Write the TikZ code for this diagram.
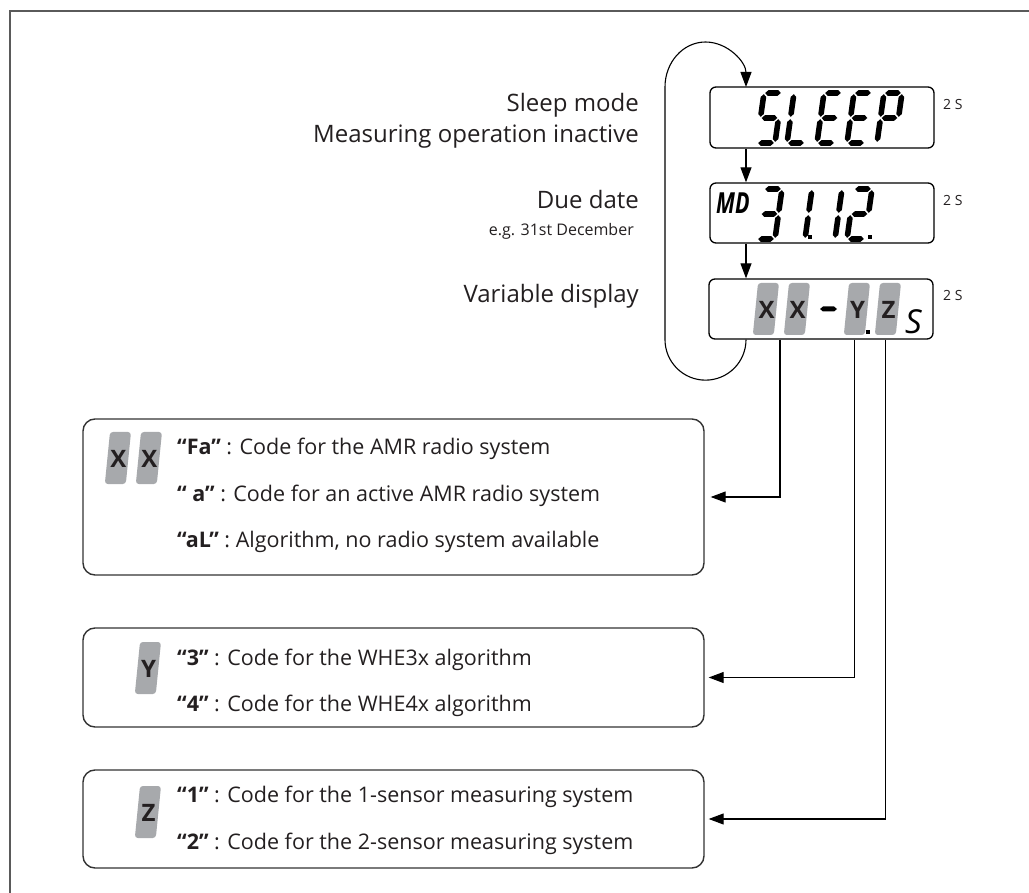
\documentclass[tikz,border=0pt]{standalone}
\usepackage{fontspec}
\setmainfont{Open Sans}
\usetikzlibrary{arrows.meta,calc}
\definecolor{tilegray}{HTML}{A7A9AC}
\definecolor{txt}{HTML}{231F20}
\definecolor{framegray}{HTML}{5A5A5A}
\definecolor{boxgray}{HTML}{333333}
\newcommand\fsz[1]{\fontsize{#1}{#1}\selectfont}
\newcommand\sw{2.8}
% horizontal segment: x1, x2, y
\newcommand\hsegm[3]{\fill ({#1},{#3}) -- ({#1+\sw},{#3-\sw}) -- ({#2-\sw},{#3-\sw}) -- ({#2},{#3}) -- ({#2-\sw},{#3+\sw}) -- ({#1+\sw},{#3+\sw}) -- cycle;}
% vertical segment: x, y1, y2
\newcommand\vsegm[3]{\fill ({#1},{#2}) -- ({#1+\sw},{#2+\sw}) -- ({#1+\sw},{#3-\sw}) -- ({#1},{#3}) -- ({#1-\sw},{#3-\sw}) -- ({#1-\sw},{#2+\sw}) -- cycle;}
\newcommand\sga{\hsegm{1.2}{16.8}{0}}
\newcommand\sgb{\vsegm{18}{1.2}{23.8}}
\newcommand\sgc{\vsegm{18}{26.2}{48.8}}
\newcommand\sgd{\hsegm{1.2}{16.8}{50}}
\newcommand\sge{\vsegm{0}{26.2}{48.8}}
\newcommand\sgf{\vsegm{0}{1.2}{23.8}}
\newcommand\sgg{\hsegm{1.2}{16.8}{25}}
% glyph: x of bottom-left, y top, segment list
\newcommand\glyph[3]{\begin{scope}[shift={(#1+7,#2)},xslant=0.14]\foreach \s in {#3}{\csname sg\s\endcsname}\end{scope}}
% tile: node name, x bottom-left, y top, letter
\newcommand\tile[4]{\begin{scope}[shift={(#2+5,#3)},xslant=0.1]\fill[tilegray,rounded corners=3] (0,0) rectangle (21,52);\end{scope}
\node[tilelbl] (#1) at (#2+13.5,#3+27) {#4};}
\begin{document}
\begin{tikzpicture}[x=1pt,y=-1pt,
  lbl/.style={font=\fsz{24}, text=txt, inner sep=0},
  small/.style={font=\fsz{16}, text=txt, inner sep=0},
  secs/.style={font=\fsz{14}, text=txt, inner sep=0},
  ltext/.style={font=\fsz{21.5}, text=txt, inner sep=0},
  tilelbl/.style={font=\fsz{24}\bfseries, text=txt, inner sep=0},
  disp/.style={draw=black, line width=1.3pt, rounded corners=6, minimum width=224pt, minimum height=60pt, inner sep=0},
  legbox/.style={draw=boxgray, line width=1.4pt, rounded corners=12, minimum width=621pt, inner sep=0},
  conn/.style={draw=black, line width=1.1pt, -{Triangle[length=15pt,width=11pt]}},
  loopline/.style={draw=black, line width=1.1pt, -{Triangle[length=15pt,width=11pt]}}]
\useasboundingbox (0,0) rectangle (1029,893);
% outer frame
\coordinate (fbl) at (9.5,893);
\coordinate (ftl) at (9.5,11.5);
\coordinate (ftr) at (1029,11.5);
\draw[framegray, line width=2pt] (fbl) -- (ftl) -- (ftr);

% display boxes
\node[disp, minimum height=61pt] (sleep) at (822,117.5) {};
\node[disp] (md) at (822,213) {};
\node[disp] (var) at (821,309) {};

% SLEEP glyphs
\glyph{757}{93}{a,f,g,c,d}
\glyph{787}{93}{f,e,d}
\glyph{817}{93}{a,f,g,e,d}
\glyph{847}{93}{a,f,g,e,d}
\glyph{877}{93}{a,b,f,g,e}

% MD 31.12.
\node[font=\fsz{29}\bfseries\itshape, text=black, inner sep=0, anchor=base west, xscale=0.74, transform shape] (mdtxt) at (716,214) {MD};
\glyph{757}{189}{a,b,g,c,d}
\glyph{787}{189}{b,c}
\glyph{817}{189}{b,c}
\glyph{847}{189}{a,b,g,e,d}
\fill (807.5,235.5) rectangle (811.5,239.5);
\fill (867.5,235.5) rectangle (871.5,239.5);

% variable display
\tile{vx1}{753}{283}{X}
\tile{vx2}{784}{283}{X}
\tile{vy}{844}{283}{Y}
\tile{vz}{875}{283}{Z}
\fill (820,309) -- (823,306.5) -- (834,306.5) -- (837,309) -- (834,311.5) -- (823,311.5) -- cycle;
\fill (865.5,330) rectangle (870,334.5);
\node[font=\fsz{33}\itshape, text=black, inner sep=0, anchor=base west] (sbig) at (905,334) {S};

% 2 S labels
\node[secs, anchor=base west] (s1) at (943,110) {2 S};
\node[secs, anchor=base west] (s2) at (943,206) {2 S};
\node[secs, anchor=base west] (s3) at (943,301) {2 S};

% left labels
\node[lbl, anchor=base east] (sleepl) at (639,112) {Sleep mode};
\node[lbl, anchor=base east] (measl) at (639,143) {Measuring operation inactive};
\node[lbl, anchor=base east] (duel) at (639,209) {Due date};
\node[small, anchor=base east] (egl) at (634,236) {e.g. 31st December};
\node[lbl, anchor=base east] (varl) at (639,303) {Variable display};

% flow arrows
\coordinate (ax) at (746,0);
\draw[conn] (sleep.south -| ax) -- (md.north -| ax);
\draw[conn] (md.south -| ax) -- (var.north -| ax);
% loop
\coordinate (lpb) at (665,339);
\coordinate (lpt) at (665,87);
\draw[loopline] (var.south -| ax) arc[start angle=0, end angle=180, radius=40.5] -- (lpt) arc[start angle=180, end angle=360, x radius=40.5, y radius=45];

% legend boxes
\node[legbox, minimum height=156pt] (xx) at (393.5,497) {};
\node[legbox, minimum height=99pt] (yy) at (393.5,677.5) {};
\node[legbox, minimum height=98pt] (zz) at (393.5,819) {};

\tile{lx1}{105}{432}{X}
\tile{lx2}{136}{432}{X}
\tile{ly}{135}{642}{Y}
\tile{lz}{135}{786}{Z}

\node[ltext, anchor=base west] (t1) at (177,455) {\textbf{“Fa”} : Code for the AMR radio system};
\node[ltext, anchor=base west] (t2) at (177,501) {\textbf{“ a”} : Code for an active AMR radio system};
\node[ltext, anchor=base west] (t3) at (177,547) {\textbf{“aL”} : Algorithm, no radio system available};
\node[ltext, anchor=base west] (t4) at (177,665) {\textbf{“3”} : Code for the WHE3x algorithm};
\node[ltext, anchor=base west] (t5) at (177,711) {\textbf{“4”} : Code for the WHE4x algorithm};
\node[ltext, anchor=base west] (t6) at (177,802) {\textbf{“1”} : Code for the 1-sensor measuring system};
\node[ltext, anchor=base west] (t7) at (177,849) {\textbf{“2”} : Code for the 2-sensor measuring system};

% connectors to legend
\coordinate (xtap) at (780,0);
\coordinate (ytap) at (854.5,0);
\coordinate (ztap) at (885.5,0);
\draw[conn, shorten >=6pt] (var.south -| xtap) |- (xx.east);
\draw[conn, shorten >=4pt] (var.south -| ytap) |- (yy.east);
\draw[conn, shorten >=4pt] (var.south -| ztap) |- (zz.east);
\end{tikzpicture}
\end{document}
